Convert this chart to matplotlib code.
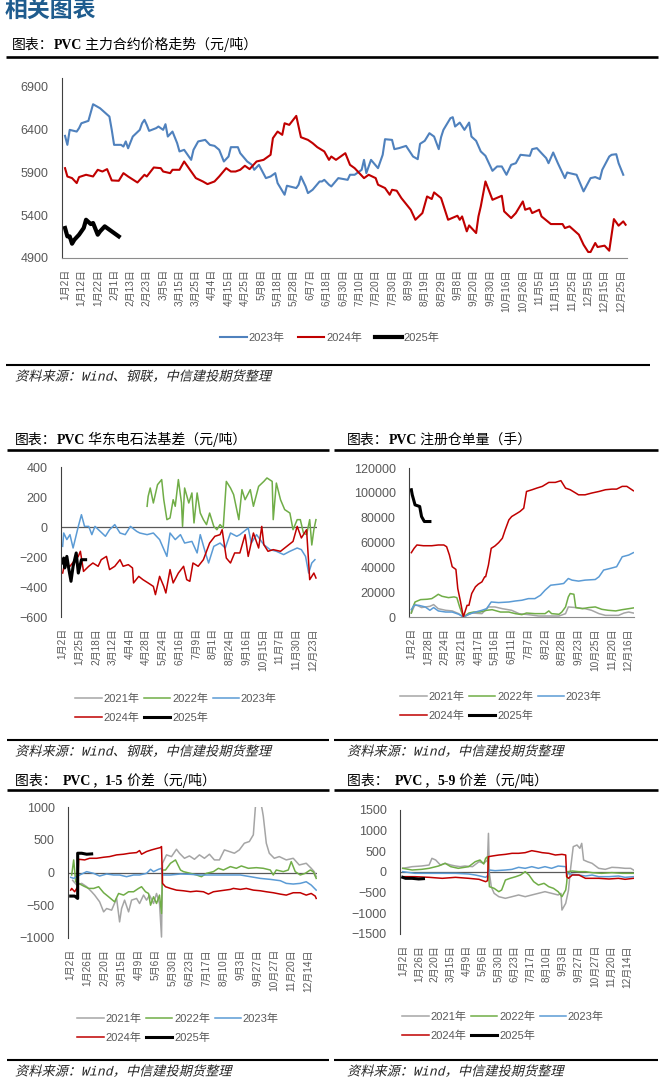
import matplotlib
matplotlib.use('Agg')
import matplotlib.pyplot as plt
from matplotlib.patheffects import AbstractPathEffect
from matplotlib.transforms import Affine2D

plt.rcParams['font.family'] = ['Liberation Sans', 'Noto Sans CJK SC']

# ---------------- data (x = trading-day index, y = value) ----------------
price_ticks = ['1月2日', '1月12日', '1月22日', '2月1日', '2月13日', '2月23日', '3月5日', '3月15日',
               '3月25日', '4月4日', '4月15日', '4月25日', '5月8日', '5月18日', '5月28日', '6月7日',
               '6月18日', '6月30日', '7月10日', '7月20日', '7月30日', '8月9日', '8月19日', '8月29日',
               '9月8日', '9月20日', '9月30日', '10月16日', '10月26日', '11月5日', '11月15日',
               '11月25日', '12月5日', '12月15日', '12月25日']
price_2023 = [(0, 6325), (1, 6220), (2, 6395), (5, 6375), (6, 6415), (7, 6472), (10, 6500), (12, 6694),
              (15, 6647), (19, 6550), (20, 6395), (21, 6220), (24, 6220), (25, 6200), (26, 6260),
              (27, 6180), (29, 6317), (32, 6395), (33, 6472), (34, 6512), (35, 6453), (36, 6383),
              (39, 6415), (40, 6434), (42, 6395), (43, 6461), (44, 6317), (46, 6375), (48, 6240),
              (49, 6143), (51, 6162), (54, 6045), (55, 6162), (57, 6260), (60, 6278), (62, 6220),
              (64, 6208), (66, 6162), (68, 6026), (70, 6084), (71, 6193), (74, 6193), (75, 6123),
              (78, 6026), (80, 5987), (81, 5929), (83, 5987), (86, 5832), (88, 5851), (90, 5890),
              (91, 5774), (94, 5638), (95, 5743), (99, 5716), (100, 5755), (101, 5851), (103, 5735),
              (104, 5657), (106, 5696), (109, 5793), (110, 5793), (111, 5812), (113, 5755),
              (114, 5735), (117, 5832), (121, 5812), (122, 5871), (124, 5871), (127, 5929),
              (128, 6045), (129, 5890), (131, 6045), (134, 5948), (136, 6104), (137, 6286),
              (140, 6278), (141, 6170), (143, 6182), (146, 6208), (149, 6084), (151, 6053),
              (152, 6232), (154, 6267), (156, 6356), (158, 6317), (160, 6170), (161, 6310),
              (162, 6395), (165, 6531), (166, 6543), (167, 6434), (169, 6480), (171, 6395),
              (173, 6480), (174, 6317), (176, 6267), (178, 6143), (180, 6092), (183, 5917),
              (185, 5968), (187, 5968), (189, 5871), (191, 5987), (193, 6006), (195, 6104),
              (199, 6092), (200, 6170), (202, 6182), (204, 6123), (206, 6065), (207, 6006),
              (209, 6131), (211, 6006), (214, 5832), (215, 5898), (216, 5890), (219, 5871),
              (222, 5677), (225, 5832), (227, 5844), (229, 5821), (230, 5929), (233, 6084),
              (234, 6104), (236, 6111), (237, 6006), (239, 5871)]
price_2024 = [(0, 5948), (1, 5851), (3, 5832), (5, 5774), (6, 5844), (9, 5871), (12, 5851), (14, 5929),
              (16, 5909), (18, 5937), (20, 5805), (23, 5801), (25, 5890), (27, 5851), (31, 5781),
              (34, 5871), (35, 5851), (38, 5956), (41, 5948), (42, 5909), (45, 5890), (46, 5929),
              (49, 5929), (51, 6026), (53, 5948), (56, 5832), (59, 5793), (61, 5762), (64, 5793),
              (66, 5851), (69, 5948), (71, 5909), (73, 5909), (75, 5929), (77, 5976), (79, 5937),
              (82, 6026), (85, 6045), (88, 6104), (89, 6298), (91, 6375), (93, 6337), (94, 6472),
              (96, 6453), (99, 6558), (101, 6309), (104, 6278), (106, 6240), (108, 6193),
              (111, 6143), (113, 6045), (114, 6084), (116, 6045), (120, 6123), (122, 5987),
              (124, 5948), (128, 5832), (130, 5871), (133, 5832), (134, 5755), (137, 5716),
              (139, 5638), (140, 5696), (142, 5685), (144, 5599), (148, 5463), (150, 5346),
              (153, 5424), (155, 5618), (157, 5588), (158, 5665), (161, 5599), (164, 5346),
              (168, 5393), (169, 5346), (170, 5385), (172, 5211), (173, 5280), (176, 5191),
              (177, 5385), (178, 5502), (180, 5793), (183, 5579), (187, 5626), (188, 5444),
              (191, 5366), (193, 5424), (196, 5560), (197, 5463), (199, 5482), (200, 5424),
              (203, 5463), (204, 5385), (208, 5296), (213, 5296), (214, 5249), (216, 5269),
              (220, 5172), (222, 5055), (224, 4970), (225, 4970), (227, 5075), (228, 5028),
              (231, 5044), (233, 4985), (235, 5354), (237, 5277), (239, 5327), (240, 5288)]
price_2025 = [(0, 5250), (1, 5152), (2, 5152), (3, 5067), (4, 5113), (6, 5172), (8, 5250), (9, 5346),
              (11, 5296), (12, 5308), (14, 5172), (15, 5211), (17, 5269), (19, 5230), (23, 5152)]

basis_ticks = ['1月2日', '1月25日', '2月18日', '3月12日', '4月4日', '4月28日', '5月24日', '6月16日',
               '7月9日', '8月1日', '8月24日', '9月16日', '10月15日', '11月7日', '11月30日', '12月23日']
basis_2021 = []
basis_2022 = [(81, 138), (82, 204), (84, 260), (87, 160), (91, 282), (95, 316), (97, 182), (100, 49),
              (103, 60), (106, 182), (108, 138), (111, 316), (114, 160), (115, 4), (117, 260),
              (121, 160), (124, 227), (126, 27), (129, 227), (132, 93), (135, 49), (138, 16),
              (141, 93), (145, 4), (148, -18), (151, 16), (154, -7), (157, 304), (161, 260),
              (164, 216), (169, 49), (172, 249), (175, 182), (180, 249), (183, 138), (188, 271),
              (193, 304), (196, 327), (201, 304), (202, 49), (205, 293), (209, 182), (213, 116),
              (218, 93), (221, -18), (225, 49), (228, 49), (231, -40), (234, -51), (237, 49),
              (239, -120), (241, -18), (243, 49)]
basis_2023 = [(0, -129), (1, -40), (4, -84), (7, -51), (10, -140), (15, 4), (18, 82), (21, 4), (25, 4),
              (28, -51), (31, 4), (36, -29), (41, -62), (45, -18), (50, 16), (55, -40), (60, -51),
              (65, 4), (71, -29), (74, -40), (81, -51), (87, -40), (93, -84), (100, -196), (103, -40),
              (108, -84), (113, -51), (117, -107), (124, -96), (129, -173), (132, -51), (137, -173),
              (140, -240), (145, -129), (151, -107), (156, -140), (161, -40), (167, -62), (170, -51),
              (178, -7), (181, -107), (186, -51), (193, -118), (199, -151), (205, -162), (212, -184),
              (218, -162), (225, -140), (229, -151), (233, -196), (236, -307), (239, -240), (242, -218)]
basis_2024 = [(0, -307), (2, -240), (7, -262), (12, -218), (15, -196), (17, -162), (20, -296),
              (25, -262), (29, -240), (34, -262), (37, -218), (42, -196), (45, -284), (50, -262),
              (55, -218), (58, -262), (63, -251), (67, -273), (68, -373), (73, -329), (77, -351),
              (82, -373), (87, -396), (89, -451), (93, -329), (97, -396), (99, -440), (103, -284),
              (106, -373), (111, -307), (116, -262), (119, -351), (122, -362), (125, -240),
              (130, -262), (135, -218), (141, -107), (146, -62), (151, -51), (153, -18), (157, -207),
              (161, -240), (165, -173), (170, -173), (175, -51), (178, -196), (183, -40), (188, -140),
              (191, 4), (193, -118), (197, -162), (202, -151), (209, -162), (215, -129), (221, -96),
              (225, 4), (229, -73), (234, -18), (237, -351), (241, -307), (243, -340)]
basis_2025 = [(0, -240), (1, -207), (2, -273), (4, -196), (6, -284), (8, -362), (10, -262), (13, -173),
              (15, -307), (18, -218), (22, -218)]

receipt_ticks = ['1月2日', '1月28日', '2月24日', '3月21日', '4月17日', '5月16日', '6月11日', '7月7日',
                 '8月2日', '8月28日', '9月23日', '10月25日', '11月20日', '12月16日']
receipt_2021 = [(0, 3200), (4, 10200), (11, 7600), (20, 8600), (24, 10000), (29, 6700), (37, 5400),
                (44, 4900), (51, 2700), (56, 0), (65, 3200), (76, 2700), (83, 8100), (90, 8100),
                (98, 6700), (108, 5400), (116, 2700), (126, 1900), (137, 800), (148, 800), (159, 800),
                (166, 2700), (169, 8100), (177, 7600), (187, 6700), (194, 5400), (202, 2700),
                (209, 1300), (216, 1300), (223, 1300), (229, 3200), (234, 4000), (239, 3200)]
receipt_2022 = [(0, 3200), (1, 6700), (4, 12100), (10, 14000), (17, 14300), (22, 14800), (26, 16700),
                (29, 18300), (33, 16700), (40, 15600), (46, 16200), (49, 15600), (52, 8100), (56, 0),
                (62, 3200), (67, 4000), (74, 4000), (81, 5400), (87, 5900), (96, 4000), (105, 4000),
                (112, 2700), (119, 1900), (124, 3200), (133, 2700), (144, 2700), (148, 4900),
                (151, 2700), (159, 2200), (162, 4000), (166, 8100), (169, 16200), (171, 18900),
                (175, 18300), (177, 7600), (184, 6700), (191, 7600), (198, 8100), (205, 6200),
                (212, 5400), (220, 4900), (227, 5900), (234, 6700), (239, 7300)]
receipt_2023 = [(0, 5900), (3, 9400), (8, 9400), (15, 8100), (20, 5400), (24, 7600), (29, 4900),
                (37, 4000), (44, 4000), (51, 2200), (56, 0), (62, 2200), (69, 4000), (76, 5400),
                (81, 6700), (86, 12100), (94, 11600), (105, 12100), (112, 12900), (119, 13500),
                (126, 14800), (133, 14800), (139, 17500), (144, 21600), (150, 25600), (159, 26400),
                (164, 27000), (169, 31000), (173, 29700), (180, 28900), (187, 29700), (198, 30200),
                (202, 32400), (207, 37800), (214, 39100), (221, 40500), (224, 44500), (227, 48500),
                (234, 49900), (239, 51800)]
receipt_2024 = [(0, 51800), (3, 55300), (6, 58000), (13, 57400), (22, 57400), (29, 58000), (35, 58000),
                (38, 56600), (41, 49900), (44, 40500), (48, 38300), (50, 22900), (53, 12100), (56, 0),
                (60, 9400), (62, 9400), (65, 18900), (69, 24300), (72, 26400), (76, 28300), (79, 32400),
                (80, 32400), (83, 41800), (86, 55300), (90, 57200), (94, 59900), (98, 63400),
                (101, 70100), (105, 78200), (108, 80900), (114, 83600), (117, 85000), (121, 87600),
                (124, 101100), (130, 102500), (135, 103800), (141, 105200), (148, 108400),
                (155, 108400), (161, 109800), (166, 103800), (171, 102500), (177, 99800), (180, 98400),
                (187, 98400), (194, 99800), (202, 101100), (209, 102500), (216, 103000), (221, 103000),
                (227, 105200), (232, 105200), (239, 101700)]
receipt_2025 = [(0, 102500), (1, 98400), (3, 93000), (4, 90300), (9, 89000), (11, 80900), (14, 76900),
                (20, 76900)]

spread_ticks = ['1月2日', '1月26日', '2月20日', '3月15日', '4月9日', '5月6日', '5月30日', '6月23日',
                '7月17日', '8月10日', '9月3日', '9月27日', '10月27日', '11月20日', '12月14日']
s15_2021 = [(2, -120), (6, -192), (11, -166), (16, -217), (21, -294), (24, -345), (29, -448), (33, -601),
            (36, -550), (41, -575), (46, -396), (49, -754), (51, -550), (54, -422), (58, -601), (61, -422),
            (66, -396), (69, -473), (73, -345), (76, -422), (79, -345), (83, -473), (86, -320), (89, -473),
            (91, -985), (92, 141), (96, 269), (101, 243), (106, 355), (109, 294), (114, 217), (119, 253),
            (124, 202), (129, 269), (134, 217), (139, 279), (144, 192), (149, 192), (154, 345), (159, 320),
            (164, 294), (169, 345), (174, 447), (179, 473), (183, 575), (185, 985), (186, 1100),
            (190, 1100), (192, 950), (193, 857), (196, 447), (199, 294), (204, 217), (209, 243),
            (216, 192), (223, 217), (229, 115), (236, 141), (241, 64), (244, 13), (246, -64)]
s15_2022 = [(1, -38), (3, 192), (5, -141), (8, -166), (13, -207), (18, -243), (23, -243), (28, -217),
            (33, -309), (38, -371), (44, -448), (48, -320), (53, -345), (58, -294), (63, -294), (68, -243),
            (71, -217), (75, -294), (78, -320), (80, -499), (83, -371), (86, -473), (89, -345), (91, -626),
            (92, 38), (95, 38), (100, 141), (105, 192), (110, 38), (113, 13), (120, -13), (126, -38),
            (131, -64), (136, -13), (143, 13), (148, 64), (153, 38), (160, 90), (166, 64), (171, 100),
            (178, 64), (186, 74), (193, 64), (200, 38), (203, -38), (206, 38), (213, 13), (218, 38),
            (221, 166), (225, 13), (230, -38), (235, -13), (240, 38), (243, 13), (246, -90)]
s15_2023 = [(0, -74), (3, -90), (9, -38), (16, 13), (23, -13), (29, -54), (36, -23), (43, -38), (49, -38),
            (56, -64), (63, -38), (69, -38), (76, -13), (80, 49), (83, 13), (88, 49), (91, 64), (92, -38),
            (100, -38), (110, -23), (120, -28), (130, -38), (140, -38), (150, -38), (160, -38),
            (170, -38), (180, -64), (190, -90), (200, -105), (210, -125), (216, -166), (223, -176),
            (230, -166), (236, -141), (241, -192), (246, -269)]
s15_2024 = [(0, -269), (1, -243), (4, -294), (7, -217), (8, 202), (14, 192), (19, 217), (26, 217),
            (33, 233), (39, 243), (46, 269), (53, 279), (59, 294), (66, 304), (69, 335), (71, 279),
            (76, 320), (81, 345), (86, 366), (90, 381), (91, 396), (92, -166), (95, -217), (100, -243),
            (106, -269), (113, -279), (120, -294), (126, -284), (133, -294), (138, -330), (143, -294),
            (150, -279), (160, -258), (163, -243), (170, -258), (176, -243), (183, -269), (190, -279),
            (196, -294), (203, -309), (210, -330), (216, -345), (223, -309), (230, -309), (236, -345),
            (241, -320), (245, -360), (246, -396)]
s15_2025 = [(0, -360), (4, -360), (7, -396), (7, 294), (11, 294), (16, 279), (21, 284)]

s59_2021 = [(0, 89), (10, 129), (20, 145), (28, 169), (31, 331), (35, 290), (40, 169), (45, 210), (51, 169),
            (56, 145), (61, 129), (66, 145), (74, 129), (81, 250), (86, 210), (90, 290), (91, 935),
            (92, -32), (94, -355), (97, -516), (102, -597), (109, -637), (116, -597), (123, -556),
            (130, -597), (137, -556), (144, -516), (151, -476), (158, -516), (165, -556), (168, -516),
            (169, -920), (173, -758), (176, -435), (178, 48), (181, 613), (185, 653), (188, 573),
            (190, 693), (192, 290), (196, 250), (201, 210), (208, 89), (215, 64), (222, 113), (229, 105),
            (236, 89), (242, 89), (245, 48)]
s59_2022 = [(0, 89), (10, 48), (20, 64), (28, 89), (38, 145), (45, 210), (51, 129), (59, 89), (70, 129),
            (77, 250), (82, 290), (86, 193), (88, 331), (90, 371), (92, -355), (97, -395), (102, -476),
            (105, -435), (109, -194), (114, -153), (120, -113), (125, -73), (130, 8), (134, -73),
            (139, -234), (144, -315), (150, -274), (155, -355), (160, -395), (165, -476), (169, -597),
            (173, -435), (174, -274), (175, 8), (180, 24), (187, 8), (194, 8), (201, -16), (211, -32),
            (222, -16), (233, -32), (245, -32)]
s59_2023 = [(0, 8), (13, -32), (28, -32), (42, -32), (56, -32), (70, -48), (77, -73), (82, -97), (88, -129),
            (91, -73), (92, 48), (98, 32), (109, 48), (116, 64), (123, 113), (130, 89), (137, 129),
            (144, 89), (151, 129), (158, 89), (165, 145), (173, 129), (174, -32), (180, -56), (187, -73),
            (194, -97), (201, -73), (208, -113), (219, -113), (229, -97), (236, -129), (245, -113)]
s59_2024 = [(0, -113), (13, -113), (28, -129), (42, -153), (56, -129), (70, -153), (81, -177), (88, -234),
            (90, -210), (91, 371), (95, 387), (102, 411), (109, 427), (116, 452), (123, 452), (130, 468),
            (137, 516), (143, 492), (148, 468), (155, 452), (162, 411), (169, 427), (173, 411),
            (174, -113), (176, -153), (180, -73), (187, -73), (194, -153), (201, -153), (208, -153),
            (219, -169), (229, -153), (236, -177), (245, -153)]
s59_2025 = [(0, -129), (3, -153), (10, -153), (17, -169), (22, -161)]

years = ['2021年', '2022年', '2023年', '2024年', '2025年']
colors = ['#A5A5A5', '#70AD47', '#5B9BD5', '#C00000', '#000000']

W, H = 664, 1085
CJK = 'Noto Sans CJK SC'


class Slant(AbstractPathEffect):
    def __init__(self, deg=14):
        super().__init__()
        self.deg = deg

    def draw_path(self, renderer, gc, tpath, affine, rgbFace=None):
        m = affine.get_matrix()
        tx, ty = m[0, 2], m[1, 2]
        sk = Affine2D().translate(-tx, -ty).skew_deg(self.deg, 0).translate(tx, ty)
        renderer.draw_path(gc, tpath, affine + sk, rgbFace)


fig = plt.figure(figsize=(W / 100, H / 100), dpi=100)
bg = fig.add_axes([0, 0, 1, 1])
bg.axis('off')
bg.set_xlim(0, W)
bg.set_ylim(H, 0)


def make_axes(l, t, r, b):
    return fig.add_axes([l / W, 1 - b / H, (r - l) / W, (b - t) / H])


def hline(x0, x1, y, lw):
    bg.plot([x0, x1], [y, y], color='black', lw=lw, solid_capstyle='butt')


def title(x, y, parts):
    prev = None
    for s, bold in parts:
        kw = dict(fontsize=10, color='black')
        if bold:
            kw.update(family=['Liberation Serif', CJK], weight='bold')
        else:
            kw.update(family=[CJK])
        if prev is None:
            prev = bg.text(x, y, s, ha='left', va='center', **kw)
        else:
            prev = bg.annotate(s, xy=(1, 0), xycoords=prev, ha='left', va='bottom', **kw)


def source(x, y, s):
    bg.text(x, y, s, ha='left', va='center', fontsize=9.5, color='#262626',
            family=['Liberation Mono', CJK], path_effects=[Slant(14)])


def style(ax, xlim, ylim, yticks, labels, step, zero_line=True):
    ax.set_xlim(*xlim)
    ax.set_ylim(*ylim)
    ax.set_yticks(yticks)
    ax.set_xticks(range(0, step * len(labels), step))
    ax.set_xticklabels(labels, rotation=90, fontsize=7.2, color='#595959')
    ax.tick_params(axis='y', length=0, pad=9.5, labelsize=9, labelcolor='#595959')
    ax.tick_params(axis='x', length=0, pad=8)
    for s in ['top', 'right']:
        ax.spines[s].set_visible(False)
    ax.spines['left'].set_color('#404040')
    if zero_line:
        ax.spines['bottom'].set_visible(False)
        ax.axhline(0, color='#595959', lw=0.9, zorder=1)
    else:
        ax.spines['bottom'].set_color('#8C8C8C')


def draw(ax, series, cols, lw=1.1):
    lines = []
    for data, c in zip(series, cols):
        xs = [p[0] for p in data]
        ys = [p[1] for p in data]
        w = lw * 2.0 if c == '#000000' else lw
        ln, = ax.plot(xs, ys, color=c, lw=w, solid_joinstyle='round', zorder=2)
        lines.append(ln)
    return lines


def legend(ax, lines, labels, x, y, ncol, colsp):
    ax.legend(lines, labels, loc='center left', bbox_to_anchor=(x / W, 1 - y / H),
              bbox_transform=fig.transFigure, ncol=ncol, frameon=False, fontsize=8,
              handlelength=2.4, handletextpad=0.15, columnspacing=colsp, borderpad=0,
              borderaxespad=0, labelspacing=0.75, labelcolor='#595959')


# header
bg.text(5, 10, '相关图表', fontsize=16.5, weight='bold', color='#1F5C8E', family=[CJK],
        ha='left', va='center')

# ---------------- panel 1: price ----------------
title(12, 45, [('图表：', False), ('PVC', True), (' 主力合约价格走势（元/吨）', False)])
hline(6, 658, 57, 1.9)
ax1 = make_axes(62, 78, 627, 258)
style(ax1, (-1.3, 240.6), (4900, 7000), range(4900, 7000, 500), price_ticks, 7, zero_line=False)
l1 = draw(ax1, [price_2023, price_2024, price_2025], ['#4F81BD', '#C00000', '#000000'], lw=1.5)
legend(ax1, l1, years[2:], 220, 338, 3, 1.2)
hline(6, 650, 365, 1.5)
source(15, 377, '资料来源：Wind、钢联，中信建投期货整理')

# ---------------- panel 2: basis ----------------
title(15, 440, [('图表：', False), ('PVC', True), (' 华东电石法基差（元/吨）', False)])
hline(7, 329, 450, 1.9)
ax2 = make_axes(61, 467, 317, 617)
style(ax2, (-1.6, 244), (-600, 400), range(-600, 401, 200), basis_ticks, 16)
l2 = draw(ax2, [basis_2021, basis_2022, basis_2023, basis_2024, basis_2025], colors)
order = [0, 3, 1, 4, 2]
legend(ax2, [l2[i] for i in order], [years[i] for i in order], 75, 708, 3, 0.4)
hline(7, 329, 740, 1.5)
source(15, 752, '资料来源：Wind、钢联，中信建投期货整理')

# ---------------- panel 3: warehouse receipts ----------------
title(347, 440, [('图表：', False), ('PVC', True), (' 注册仓单量（手）', False)])
hline(334, 658, 450, 1.9)
ax3 = make_axes(409, 468, 634, 617)
style(ax3, (-2.5, 239.7), (0, 120000), range(0, 120001, 20000), receipt_ticks, 18, zero_line=False)
l3 = draw(ax3, [receipt_2021, receipt_2022, receipt_2023, receipt_2024, receipt_2025], colors)
legend(ax3, [l3[i] for i in order], [years[i] for i in order], 400, 706, 3, 0.4)
hline(334, 658, 740, 1.5)
source(347, 752, '资料来源：Wind，中信建投期货整理')

# ---------------- panel 4: 1-5 spread ----------------
title(15, 781, [('图表：  ', False), ('PVC', True), ('，', False), ('1-5', True), (' 价差（元/吨）', False)])
hline(7, 329, 790, 1.9)
ax4 = make_axes(68, 807, 317, 938)
style(ax4, (-2.7, 246.8), (-1000, 1000), range(-1000, 1001, 500), spread_ticks, 17)
l4 = draw(ax4, [s15_2021, s15_2022, s15_2023, s15_2024, s15_2025], colors)
legend(ax4, [l4[i] for i in order], [years[i] for i in order], 77, 1028, 3, 0.4)
hline(7, 329, 1060, 1.5)
source(15, 1072, '资料来源：Wind，中信建投期货整理')

# ---------------- panel 5: 5-9 spread ----------------
title(347, 781, [('图表：  ', False), ('PVC', True), ('，', False), ('5-9', True), (' 价差（元/吨）', False)])
hline(334, 658, 790, 1.9)
ax5 = make_axes(400, 810, 634, 934)
style(ax5, (-2.9, 245.5), (-1500, 1500), range(-1500, 1501, 500), spread_ticks, 17)
l5 = draw(ax5, [s59_2021, s59_2022, s59_2023, s59_2024, s59_2025], colors)
legend(ax5, [l5[i] for i in order], [years[i] for i in order], 402, 1026, 3, 0.4)
hline(334, 658, 1060, 1.5)
source(347, 1072, '资料来源：Wind，中信建投期货整理')

fig.savefig('out.png', dpi=100)
